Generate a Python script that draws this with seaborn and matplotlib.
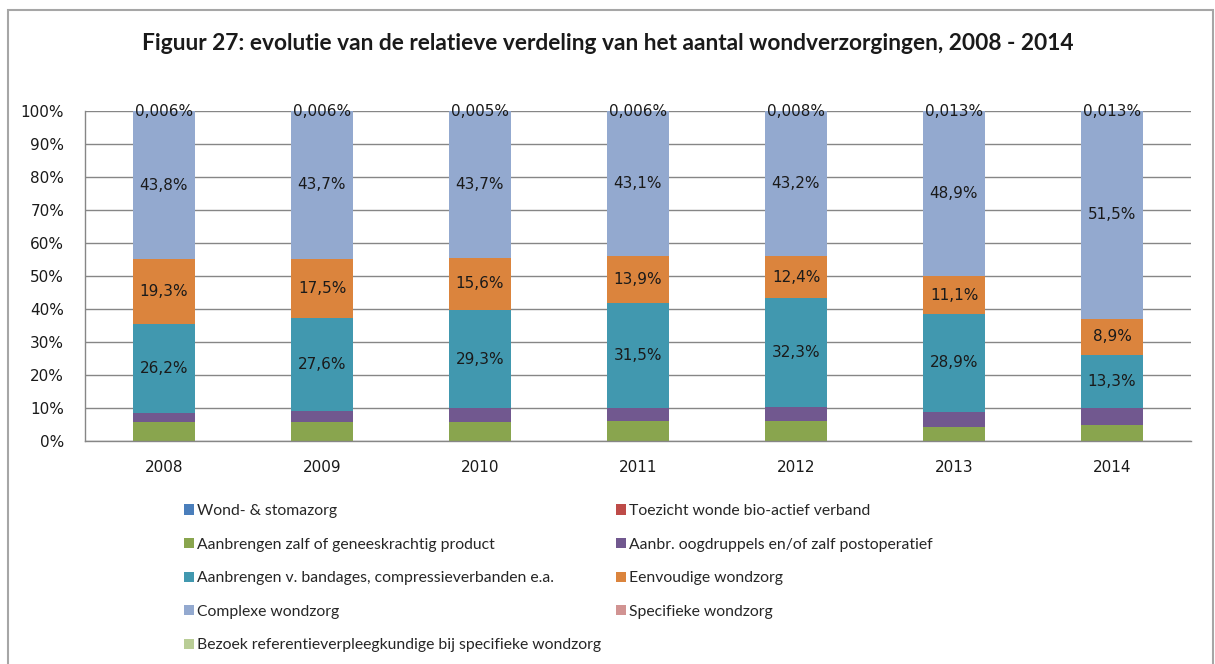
import matplotlib
matplotlib.use("Agg")
import matplotlib.pyplot as plt
from matplotlib.patches import Patch, Rectangle
import numpy as np
import pandas as pd
import seaborn as sns

TITLE = "Figuur 27: evolutie van de relatieve verdeling van het aantal wondverzorgingen, 2008 - 2014"

YEARS = ["2008", "2009", "2010", "2011", "2012", "2013", "2014"]

# share per type of care (%); Excel draws them as a 100% stack
WOND_STOMA = [0, 0, 0, 0, 0, 0, 0]
TOEZICHT = [0, 0, 0, 0, 0, 0, 0]
ZALF = [5.6, 5.6, 5.6, 6.0, 6.0, 4.1, 3.9]
OOGDRUPPELS = [2.7, 3.2, 4.1, 3.7, 4.2, 4.6, 4.2]
BANDAGES = [26.2, 27.6, 29.3, 31.5, 32.3, 28.9, 13.3]
EENVOUDIG = [19.3, 17.5, 15.6, 13.9, 12.4, 11.1, 8.9]
COMPLEX = [43.8, 43.7, 43.7, 43.1, 43.2, 48.9, 51.5]
SPECIFIEK = [0.006, 0.006, 0.005, 0.006, 0.008, 0.013, 0.013]
BEZOEK = [0, 0, 0, 0, 0, 0, 0]

SERIES_NAMES = [
    "Wond- & stomazorg",
    "Toezicht wonde bio-actief verband",
    "Aanbrengen zalf of geneeskrachtig product",
    "Aanbr. oogdruppels en/of zalf postoperatief",
    "Aanbrengen v. bandages, compressieverbanden e.a.",
    "Eenvoudige wondzorg",
    "Complexe wondzorg",
    "Specifieke wondzorg",
    "Bezoek referentieverpleegkundige bij specifieke wondzorg",
]
SERIES_VALUES = [WOND_STOMA, TOEZICHT, ZALF, OOGDRUPPELS, BANDAGES,
                 EENVOUDIG, COMPLEX, SPECIFIEK, BEZOEK]
COLORS = ["#4A7EBB", "#BE4B48", "#89A54E", "#71588F", "#4198AF",
          "#DB843D", "#93A9CF", "#D19392", "#B9CD96"]

# which series get a data label and how many decimals
LABELLED = {"Aanbrengen v. bandages, compressieverbanden e.a.": 1,
            "Eenvoudige wondzorg": 1,
            "Complexe wondzorg": 1,
            "Specifieke wondzorg": 3}

GRAY = "#868686"
TEXT = "#1a1a1a"
NUM_FONT = ["DejaVu Sans"]


def pct(v, dec):
    return f"{v:.{dec}f}%".replace(".", ",")


df = pd.DataFrame(dict(zip(SERIES_NAMES, SERIES_VALUES)), index=YEARS)
shares = df.div(df.sum(axis=1), axis=0) * 100
tops = shares.cumsum(axis=1)

sns.set_style("white")
plt.rcParams["font.family"] = ["Lato", "DejaVu Sans"]

fig = plt.figure(figsize=(12.15, 6.64), dpi=100)
fig.patches.append(Rectangle((8 / 1215, -0.05), 1205 / 1215, 1 - 10 / 664 + 0.05,
                             transform=fig.transFigure, fill=False,
                             edgecolor="#A6A6A6", lw=1.5))
ax = fig.add_axes([85 / 1215, 1 - 441 / 664, 1106 / 1215, 330 / 664])

# stacked bars: draw cumulative tops from the highest series down
for name, color in reversed(list(zip(SERIES_NAMES, COLORS))):
    sns.barplot(x=YEARS, y=tops[name].values, color=color, saturation=1,
                width=0.39, errorbar=None, linewidth=0, ax=ax, zorder=2)

for name, dec in LABELLED.items():
    for i, year in enumerate(YEARS):
        mid = tops.loc[year, name] - shares.loc[year, name] / 2
        ax.text(i, mid, pct(df.loc[year, name], dec), ha="center", va="center",
                fontsize=11, family=NUM_FONT, color=TEXT, zorder=3)

ax.set_xlim(-0.5, len(YEARS) - 0.5)
ax.set_ylim(0, 100)
ax.set_yticks(np.arange(0, 101, 10))
ax.set_yticklabels([f"{t}%" for t in range(0, 101, 10)], family=NUM_FONT)
ax.set_xticks(range(len(YEARS)))
ax.set_xticklabels(YEARS, family=NUM_FONT)
ax.set_xticks(np.arange(-0.5, len(YEARS)), minor=True)
ax.set_xlabel("")
ax.set_ylabel("")

ax.yaxis.grid(True, color=GRAY, lw=1)
ax.set_axisbelow(True)
for side in ["top", "right"]:
    ax.spines[side].set_visible(False)
for side in ["left", "bottom"]:
    ax.spines[side].set_color(GRAY)
    ax.spines[side].set_linewidth(1)

ax.tick_params(axis="y", length=6, color=GRAY, pad=9, labelsize=11, labelcolor=TEXT)
ax.tick_params(axis="x", which="major", length=0, pad=14, labelsize=11, labelcolor=TEXT)
ax.tick_params(axis="x", which="minor", length=5, color=GRAY)

fig.text(0.5, 1 - 43 / 664, TITLE, ha="center", va="center",
         fontsize=16.4, fontweight="bold", color=TEXT)

handles = [Patch(facecolor=c, edgecolor="none") for c in COLORS]
legend_kw = dict(loc="upper left", frameon=False, fontsize=11.3, borderpad=0,
                 handlelength=0.62, handleheight=0.62, handletextpad=0.22,
                 labelspacing=1.25, borderaxespad=0)
left_idx = [0, 2, 4, 6, 8]
right_idx = [1, 3, 5, 7]
fig.legend([handles[i] for i in left_idx], [SERIES_NAMES[i] for i in left_idx],
           bbox_to_anchor=(184 / 1215, 1 - 504 / 664), **legend_kw)
fig.legend([handles[i] for i in right_idx], [SERIES_NAMES[i] for i in right_idx],
           bbox_to_anchor=(616 / 1215, 1 - 504 / 664), **legend_kw)

fig.savefig("out.png", dpi=100)
